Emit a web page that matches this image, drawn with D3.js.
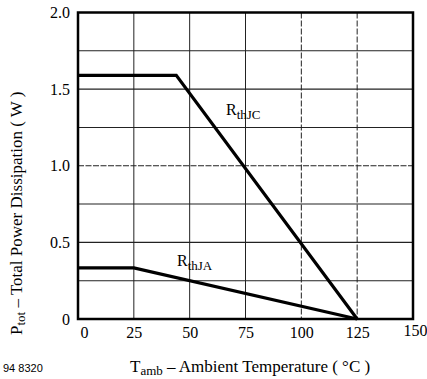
<!DOCTYPE html>
<html><head><meta charset="utf-8">
<script src="https://cdn.jsdelivr.net/npm/d3@7"></script>
<style>
body{margin:0;background:#fff;}
svg{display:block;}
text{font-family:"Liberation Serif","DejaVu Serif",serif;fill:#000;}
</style></head>
<body>
<svg id="c" width="427" height="379"></svg>
<script>
const xTicks = [0, 25, 50, 75, 100, 125, 150];
const yTicks = [0, 0.5, 1.0, 1.5, 2.0];
const yTickLabels = ["0", "0.5", "1.0", "1.5", "2.0"];
const yGrid = [0.25, 0.5, 0.75, 1.0, 1.25, 1.5, 1.75];
const xGrid = [25, 50, 75, 100, 125];
const rthJC_T = [0, 44, 125];
const rthJC_P = [1.59, 1.59, 0];
const rthJA_T = [0, 25, 125];
const rthJA_P = [0.333, 0.333, 0];

const SERIF = '"Liberation Serif","DejaVu Serif",serif';
const svg = d3.select("#c");
const L = 78, R = 413, T = 12.5, B = 319;
const x = d3.scaleLinear().domain([0, 150]).range([L, R]);
const y = d3.scaleLinear().domain([0, 2]).range([B, T]);

svg.append("g").selectAll("line").data(yGrid).join("line")
  .attr("x1", L).attr("x2", R).attr("y1", d => y(d)).attr("y2", d => y(d))
  .attr("stroke", "#222").attr("stroke-width", 1.1)
  .attr("stroke-dasharray", d => d === 1.0 ? "6,1.5" : null);
svg.append("g").selectAll("line").data(xGrid).join("line")
  .attr("y1", T).attr("y2", B).attr("x1", d => x(d)).attr("x2", d => x(d))
  .attr("stroke", "#222").attr("stroke-width", 1)
  .attr("stroke-dasharray", d => (d === 100 || d === 125) ? "6,2" : null);

const line = d3.line().x(d => x(d[0])).y(d => y(d[1]));
svg.append("path").attr("d", line(rthJC_T.map((t, i) => [t, rthJC_P[i]])))
  .attr("fill", "none").attr("stroke", "#000").attr("stroke-width", 3.2);
svg.append("path").attr("d", line(rthJA_T.map((t, i) => [t, rthJA_P[i]])))
  .attr("fill", "none").attr("stroke", "#000").attr("stroke-width", 3.2);

svg.append("rect").attr("x", L).attr("y", T).attr("width", R - L).attr("height", B - T)
  .attr("fill", "none").attr("stroke", "#000").attr("stroke-width", 2.5);

const yAxis = d3.axisLeft(y).tickValues(yTicks).tickSize(0).tickPadding(8)
  .tickFormat((d, i) => yTickLabels[i]);
const gy = svg.append("g").attr("transform", `translate(${L},0)`).call(yAxis)
  .attr("font-family", SERIF).attr("font-size", 16);
gy.select(".domain").remove();

const xAxis = d3.axisBottom(x).tickValues(xTicks).tickSize(0).tickPadding(8);
const gx = svg.append("g").attr("transform", `translate(0,${B})`).call(xAxis)
  .attr("font-family", SERIF).attr("font-size", 16);
gx.select(".domain").remove();
gx.selectAll("text")
  .attr("dx", d => d === 0 ? 6 : (d === 150 ? 2 : 0))
  .attr("dy", d => d === 150 ? "0.55em" : "0.71em");

const lab1 = svg.append("text").attr("x", 226).attr("y", 115).style("font-size", "16px");
lab1.append("tspan").text("R");
lab1.append("tspan").attr("dy", 4).style("font-size", "13px").text("thJC");
const lab2 = svg.append("text").attr("x", 177).attr("y", 266).style("font-size", "16px");
lab2.append("tspan").text("R");
lab2.append("tspan").attr("dy", 4).style("font-size", "13px").text("thJA");

const xt = svg.append("text").attr("x", 130).attr("y", 372).style("font-size", "17px");
xt.append("tspan").text("T");
xt.append("tspan").attr("dy", 3).style("font-size", "13px").text("amb");
xt.append("tspan").attr("dy", -3).text(" \u2013 Ambient Temperature ( \u00B0C )");

const yt = svg.append("text").attr("transform", "translate(22,335) rotate(-90)").style("font-size", "17px");
yt.append("tspan").text("P");
yt.append("tspan").attr("dy", 3).style("font-size", "13px").text("tot");
yt.append("tspan").attr("dy", -3).text(" \u2013 Total Power Dissipation ( W )");

svg.append("text").attr("x", 3).attr("y", 372)
  .style("font-family", '"Liberation Sans",Arial,sans-serif').style("font-size", "11px").text("94 8320");
</script>
</body></html>
